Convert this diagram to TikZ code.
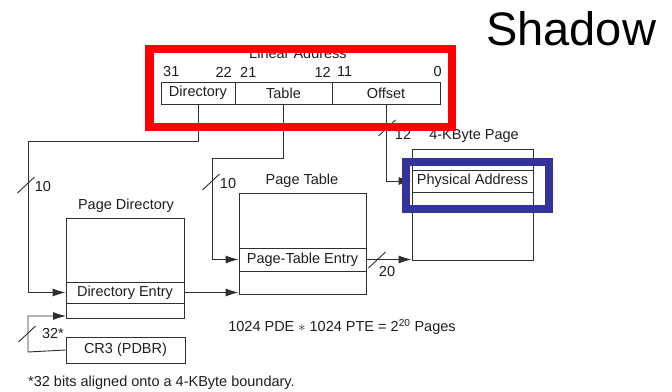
\documentclass[tikz,border=0pt]{standalone}
\usepackage{fontspec}
\setmainfont{Liberation Sans}
\usetikzlibrary{arrows.meta}
\definecolor{ln}{HTML}{2E2E2E}
\definecolor{tx}{HTML}{1E1E1E}
\definecolor{hired}{HTML}{FF0000}
\definecolor{hiblue}{HTML}{333399}
\tikzset{
  lbl/.style={font=\fontsize{14.5}{17}\selectfont, text=tx, inner sep=0pt},
  cell/.style={draw=ln, line width=0.9pt, inner sep=0pt, font=\fontsize{14.5}{17}\selectfont, text=tx},
  conn/.style={draw=ln, line width=0.9pt},
  arr/.style={conn, -{Latex[length=13pt,width=8pt]}},
  slash/.style={draw=ln, line width=0.9pt}
}
\begin{document}
\begin{tikzpicture}[x=1pt,y=-1pt]
\useasboundingbox (0,0) rectangle (672,391);
\fill[white] (0,0) rectangle (672,391);

% title
\node[anchor=base west, inner sep=0pt, font=\fontsize{47}{50}\selectfont] (title) at (486,45) {Shadow};

% linear address
\node[lbl] (latitle) at (298,53) {Linear Address};
\node[lbl, anchor=west] (b31) at (163,72) {31};
\node[lbl, anchor=east] (b22) at (232,72) {22};
\node[lbl, anchor=west] (b21) at (240,72) {21};
\node[lbl, anchor=east] (b12) at (331,72) {12};
\node[lbl, anchor=west] (b11) at (337,72) {11};
\node[lbl, anchor=east] (b0) at (442,72) {0};
\node[cell, minimum width=74pt, minimum height=22pt] (dir) at (198,93) {Directory};
\node[cell, minimum width=97pt, minimum height=22pt] (tab) at (283.5,93) {Table};
\node[cell, minimum width=108pt, minimum height=22pt] (off) at (386,93) {Offset};

% page directory
\node[lbl] (pdtitle) at (126,206) {Page Directory};
\node[cell, minimum width=118pt, minimum height=100pt] (pd) at (125,268) {};
\node[cell, minimum width=118pt, minimum height=21pt] (pde) at (125,292.5) {Directory Entry};

% page table
\node[lbl] (pttitle) at (302,181) {Page Table};
\node[cell, minimum width=127pt, minimum height=101pt] (pt) at (302.5,243.5) {};
\node[cell, minimum width=127pt, minimum height=23pt] (pte) at (302.5,259.5) {Page-Table Entry};

% 4-KByte page
\node[lbl] (pgtitle) at (474,136) {4-KByte Page};
\node[cell, minimum width=121pt, minimum height=111pt] (pg) at (472.5,204.5) {};
\node[cell, minimum width=121pt, minimum height=22pt] (pa) at (472.5,181) {Physical Address};

% CR3
\node[cell, minimum width=119pt, minimum height=26pt] (cr3) at (125.5,350) {CR3 (PDBR)};

% formula and footnote
\node[lbl] (formula) at (342,327) {1024 PDE $*$ 1024 PTE = 2\textsuperscript{20} Pages};
\node[lbl, anchor=west] (foot) at (28,383) {*32 bits aligned onto a 4-KByte boundary.};

% junction coordinates
\coordinate (j1) at (28,141);
\coordinate (j2) at (212,158);
\coordinate (j3) at (28,352);
\coordinate (pdb) at (66,316);

% connectors
\draw[arr] (dir.south) |- (j1) |- (pde.west);
\draw[arr] (tab.south) |- (j2) |- (pte.west);
\draw[arr] (off.south) |- (pa.west);
\draw[arr] (pde.east) -- (pde.east -| pt.west);
\draw[arr] (pte.east) -- (pte.east -| pg.west);
\draw[arr] (cr3.west) -- (j3) |- (pdb);

% slashes and widths
\draw[slash] (26,185) ++(-8.5,8) -- ++(17,-16);
\node[lbl] (w1) at (43,187) {10};
\draw[slash] (211,182) ++(-8.5,8) -- ++(17,-16);
\node[lbl] (w2) at (228,184) {10};
\draw[slash] (377,260) ++(-8.5,8) -- ++(17,-16);
\node[lbl] (w3) at (387,272) {20};
\draw[slash] (387,128) ++(-8.5,8) -- ++(17,-16);
\node[lbl] (w4) at (403,134) {12};
\draw[slash] (27,334) ++(-8.5,8) -- ++(17,-16);
\node[lbl] (w5) at (53,334) {32*};

% highlight rectangles
\draw[hired, line width=8.5pt] (149.25,49) rectangle (452,127);
\draw[hiblue, line width=8pt] (406,162) rectangle (549,209);
\end{tikzpicture}
\end{document}
